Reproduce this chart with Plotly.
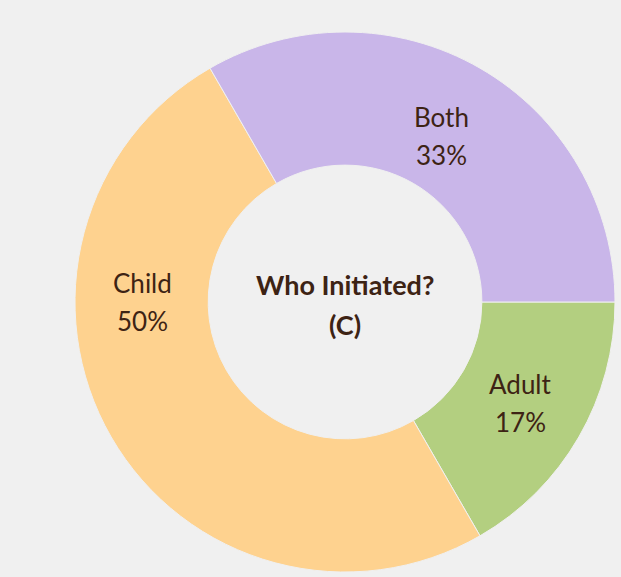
import math
import plotly.graph_objects as go

labels = ["Adult", "Child", "Both"]
values = [1, 3, 2]
colors = ["#b3cf80", "#fed28f", "#c9b6e9"]
center_title = ["Who Initiated?", "(C)"]
# label placement overrides where the original placed text off the ring midline
label_angle_override = {"Child": 180}
label_radius_override = {"Both": 192}

text_color = "#3d2314"
font_family = "Lato"

fig = go.Figure(go.Pie(
    labels=labels,
    values=values,
    hole=0.507,
    sort=False,
    direction="clockwise",
    rotation=90,
    marker=dict(colors=colors, line=dict(color="#f0f0f0", width=1)),
    textinfo="none",
    showlegend=False,
    hoverinfo="label+percent",
))

# geometry of the plot area (pixels)
W, H = 621, 577
ml, mr, mt, mb = 75, 6, 32, 5
pw = W - ml - mr
ph = H - mt - mb
r_default = 203.0

total = sum(values)
start = 0.0  # degrees, math convention; clockwise from 3 o'clock
for lab, v in zip(labels, values):
    span = 360.0 * v / total
    mid = start - span / 2.0
    start -= span
    ang = label_angle_override.get(lab, mid)
    r_px = label_radius_override.get(lab, r_default)
    x = 0.5 + r_px * math.cos(math.radians(ang)) / pw
    y = 0.5 + r_px * math.sin(math.radians(ang)) / ph
    pct = f"{round(100 * v / total)}%"
    for txt, shift in ((lab, 19), (pct, -19)):
        fig.add_annotation(
            text=txt, x=x, y=y, xref="paper", yref="paper",
            xanchor="center", yanchor="middle",
            yshift=shift, showarrow=False,
            font=dict(family=font_family, size=26, color=text_color),
        )

for txt, shift in zip(center_title, (18, -22)):
    fig.add_annotation(
        text="<b>" + txt + "</b>",
        x=0.5, y=0.5, xref="paper", yref="paper", yshift=shift,
        xanchor="center", yanchor="middle",
        showarrow=False,
        font=dict(family=font_family, size=27, color=text_color),
    )

fig.update_layout(
    width=W, height=H,
    margin=dict(l=ml, r=mr, t=mt, b=mb),
    paper_bgcolor="#f0f0f0",
    plot_bgcolor="#f0f0f0",
)

fig.write_html("out.html")
